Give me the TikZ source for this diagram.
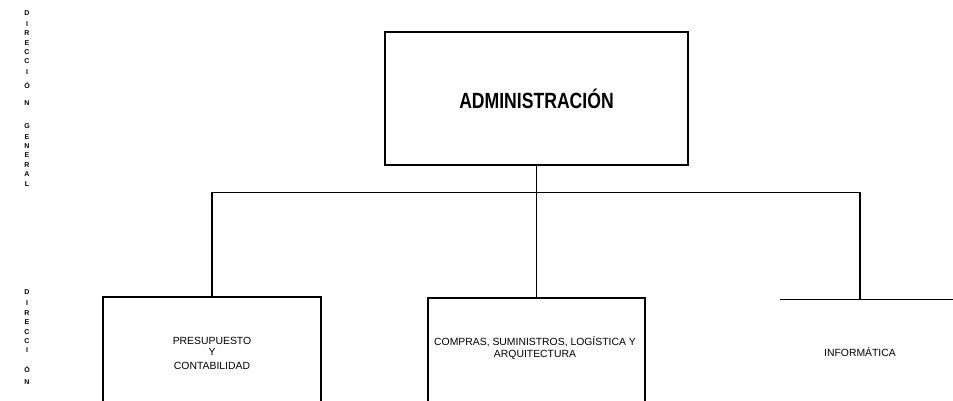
\documentclass[tikz,border=0pt]{standalone}
\usepackage{fontspec}
\setmainfont{Liberation Sans}
\newfontfamily\admfont[FakeStretch=0.8]{Liberation Sans}
\usetikzlibrary{calc}
\begin{document}
\begin{tikzpicture}[x=1pt,y=-1pt,
  orgbox/.style={draw, line width=1.2pt, inner sep=0pt, rectangle},
  orgline/.style={line width=1.2pt},
  lbl/.style={font=\fontsize{10.4}{12}\selectfont, align=center, inner sep=0pt},
  sideletter/.style={font=\fontsize{7}{7}\selectfont\bfseries, inner sep=0pt}]
\useasboundingbox (0,0) rectangle (953,401);
% side labels
\foreach \l/\y [count=\i] in {D/13,I/24,R/33,E/43,C/52,C/61,I/72,Ó/85,N/103,G/126,E/137,N/146,E/155,R/165,A/174,L/184}
  \node[sideletter] (s\i) at (27,\y) {\l};
\foreach \l/\y [count=\i] in {D/292,I/303,R/313,E/322,C/332,C/341,I/350,Ó/369,N/382}
  \node[sideletter] (t\i) at (27,\y) {\l};
% boxes
\node[orgbox, minimum width=303pt, minimum height=133pt,
      font=\admfont\fontsize{22}{26}\selectfont\bfseries] (adm) at (536.5,98.5) {ADMINISTRACIÓN};
\node[orgbox, minimum width=218pt, minimum height=130pt] (pre) at (212,362) {};
\node[orgbox, minimum width=217pt, minimum height=130pt] (com) at (536.5,363) {};
\node[inner sep=0pt, minimum width=160pt, minimum height=130pt] (inf) at (860,365) {};
\draw[orgline] (inf.north west) -- ++(175,0);
% texts
\node[lbl] (pretxt) at (212,353) {PRESUPUESTO\\[-1pt]Y\\[2pt]CONTABILIDAD};
\node[lbl] (comtxt) at (535,348) {COMPRAS, SUMINISTROS, LOGÍSTICA Y\\ARQUITECTURA};
\node[lbl] (inftxt) at (860,352) {INFORMÁTICA};
% connectors
\coordinate (j) at ($(adm.south)+(0,27)$);
\draw[orgline] (adm.south) -- (com.north);
\draw[orgline] (pre.north) |- (j) -| (inf.north);
\end{tikzpicture}
\end{document}
